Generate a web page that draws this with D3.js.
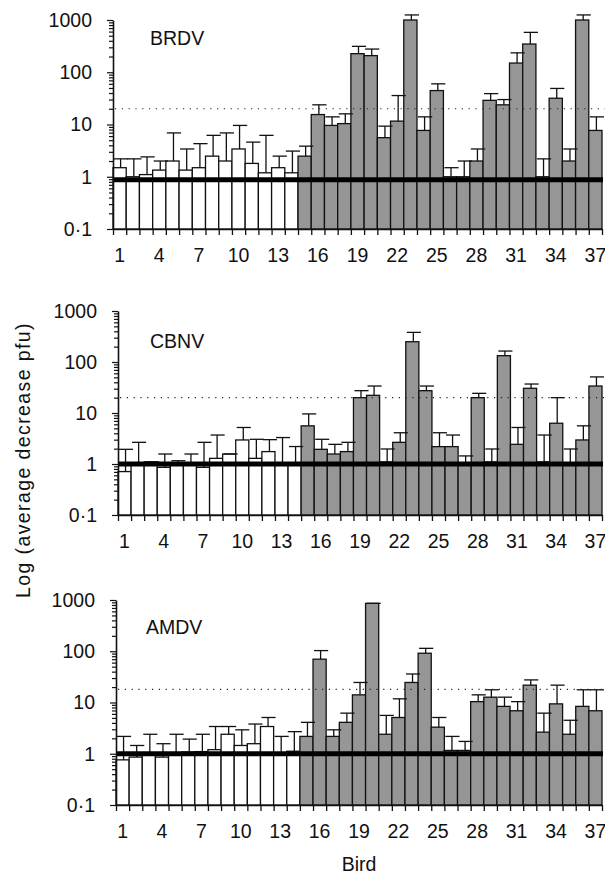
<!doctype html>
<html>
<meta charset="utf-8">
<style>
  body { margin: 0; background: #fff; }
  text { font-family: "Liberation Sans", Arial, sans-serif; fill: #111; }
</style>
<head>
  <script src="https://d3js.org/d3.v7.min.js"></script>
</head>
<body>
<script>

// birds 1..37, the first 14 are the white (control) group
var birds = d3.range(1, 38);
var controlCount = 14;
var xTickLabels = [1, 4, 7, 10, 13, 16, 19, 22, 25, 28, 31, 34, 37];
var yTickValues = [0.1, 1, 10, 100, 1000];
var yTickLabels = ["0·1", "1", "10", "100", "1000"];

var panelNames = ["BRDV", "CBNV", "AMDV"];
var cutoffs = [20, 20, 18];        // dotted line
var baselines = [0.88, 1, 1];      // thick line

var brdvMean = [1.49, 1.0, 1.1, 1.34, 2.0, 1.34, 1.49, 2.48, 2.0, 3.4, 1.8, 1.19, 1.49, 1.19,
  2.48, 15.5, 9.6, 10.4, 227, 208, 5.6, 11.6, 1000, 7.7, 44.6, 1.0, 1.0, 2.0, 29, 23.8, 150, 347, 1.0, 31.8, 2.0, 1000, 7.7];
var brdvUpper = [2.2, 2.2, 2.4, 2.0, 6.9, 3.4, 4.3, 6.2, 6.9, 9.6, 4.6, 6.2, 2.48, 3.1,
  3.85, 23.8, 14, 16, 313, 278, 9.3, 35.8, 1250, 14, 60, 1.49, 2.0, 3.4, 39, 30, 235, 580, 2.2, 49, 3.4, 1250, 14];

var cbnvMean = [0.71, 1.0, 1.1, 0.86, 1.05, 1.05, 0.86, 1.29, 1.57, 2.96, 1.29, 1.75, 1.0, 1.0,
  5.6, 1.94, 1.57, 1.75, 20, 22.2, 1.1, 2.66, 250, 27.4, 2.19, 2.19, 1.06, 20, 1.1, 133, 2.43, 30.5, 1.1, 6.3, 1.0, 2.96, 33.8];
var cbnvUpper = [1.94, 2.66, 1.1, 1.57, 1.16, 1.57, 2.66, 3.7, 1.57, 5.2, 3.05, 3.0, 3.3, 2.2,
  9.6, 3.05, 2.43, 2.66, 27.4, 33.8, 1.97, 4.1, 381, 33.8, 4.1, 3.7, 1.44, 24.3, 1.97, 164, 5.2, 37, 3.7, 20, 1.97, 5.6, 51];

var amdvMean = [0.76, 0.86, 1.0, 0.86, 1.0, 1.08, 1.1, 1.2, 2.4, 1.45, 1.57, 3.4, 1.0, 1.12,
  2.18, 70, 2.18, 4.1, 14.1, 860, 2.4, 5.1, 24.6, 91.5, 3.3, 1.16, 1.16, 10.4, 12.7, 8.4, 6.9, 21.8, 2.64, 9.4, 2.4, 8.4, 6.9];
var amdvUpper = [2.18, 1.45, 2.4, 1.57, 2.4, 1.93, 2.4, 3.4, 3.4, 2.93, 3.8, 5.1, 2.18, 2.7,
  4.1, 103, 2.93, 6.2, 24.6, 860, 5.6, 11.8, 36, 114, 5.1, 2.18, 1.74, 14.1, 17.7, 12.7, 10.4, 27.6, 6.2, 21.8, 4.5, 17.7, 17.7];

var means = [brdvMean, cbnvMean, amdvMean];
var uppers = [brdvUpper, cbnvUpper, amdvUpper];

var width = 605, height = 875;
var svg = d3.select("body").append("svg")
  .attr("width", width)
  .attr("height", height);

// panel frames: left edge of axis, y of 1000, y of 0.1, title baseline
var frames = [
  {left: 113, top: 20, bottom: 229, titleY: 45, titleX: 150},
  {left: 118, top: 311, bottom: 515, titleY: 348, titleX: 150},
  {left: 116, top: 600, bottom: 805, titleY: 634, titleX: 146}
];
var right = 602;

frames.forEach(function(f, p) {
  var g = svg.append("g");

  var x = d3.scaleBand().domain(birds).range([f.left, right]).padding(0);
  var xi = d3.scaleLinear().domain([0, birds.length]).range([f.left, right]);
  var y = d3.scaleLog().domain([0.1, 1000]).range([f.bottom, f.top]);
  var bw = x.bandwidth();

  var rows = birds.map(function(b, i) {
    return {bird: b, mean: means[p][i], upper: uppers[p][i], control: i < controlCount};
  });

  // bars
  g.selectAll("rect.bar").data(rows).enter().append("rect")
    .attr("class", "bar")
    .attr("x", function(d) { return x(d.bird); })
    .attr("width", bw)
    .attr("y", function(d) { return y(d.mean); })
    .attr("height", function(d) { return f.bottom - y(d.mean); })
    .attr("fill", function(d) { return d.control ? "#fff" : "#969696"; })
    .attr("stroke", "#111")
    .attr("stroke-width", 1.3);

  // error bars
  var eb = g.selectAll("g.err").data(rows).enter().append("g").attr("class", "err")
    .attr("stroke", "#111").attr("stroke-width", 1.3);
  eb.append("line")
    .attr("x1", function(d) { return x(d.bird) + bw / 2 + 1; })
    .attr("x2", function(d) { return x(d.bird) + bw / 2 + 1; })
    .attr("y1", function(d) { return y(d.mean); })
    .attr("y2", function(d) { return y(d.upper); });
  eb.append("line")
    .attr("x1", function(d) { return x(d.bird) + 1; })
    .attr("x2", function(d) { return x(d.bird) + bw + 2; })
    .attr("y1", function(d) { return y(d.upper); })
    .attr("y2", function(d) { return y(d.upper); });

  // dotted cut-off line
  g.append("line")
    .attr("x1", f.left + 2).attr("x2", width)
    .attr("y1", y(cutoffs[p])).attr("y2", y(cutoffs[p]))
    .attr("stroke", "#222").attr("stroke-width", 1.2)
    .attr("stroke-dasharray", "1.2,5.6");

  // thick baseline
  g.append("line")
    .attr("x1", f.left).attr("x2", right + 1)
    .attr("y1", y(baselines[p])).attr("y2", y(baselines[p]))
    .attr("stroke", "#000").attr("stroke-width", 5);

  // y axis
  var yAxis = d3.axisLeft(y)
    .tickValues(y.ticks())
    .tickSize(6)
    .tickSizeOuter(0)
    .tickPadding(15)
    .tickFormat(function(d) {
      var k = yTickValues.findIndex(function(v) { return Math.abs(v - d) < 1e-9; });
      return k >= 0 ? yTickLabels[k] : "";
    });
  var ya = g.append("g").attr("transform", "translate(" + f.left + ",0)").call(yAxis);
  ya.selectAll("line").attr("stroke", "#111").attr("stroke-width", 1.2)
    .attr("x2", function(d) {
      var major = yTickValues.some(function(v) { return Math.abs(v - d) < 1e-9; });
      return major ? -6 : -4;
    });
  ya.select(".domain").attr("stroke", "#111").attr("stroke-width", 1.6);
  ya.selectAll("text").style("font-size", "19.5px").attr("fill", "#111");

  // x axis: ticks at bar boundaries
  var xAxis = d3.axisBottom(xi)
    .tickValues(d3.range(0, birds.length + 1))
    .tickSize(6)
    .tickSizeOuter(0)
    .tickFormat("");
  var xa = g.append("g").attr("transform", "translate(0," + f.bottom + ")").call(xAxis);
  xa.selectAll("line").attr("stroke", "#111").attr("stroke-width", 1.3);
  xa.select(".domain").attr("stroke", "#111").attr("stroke-width", 1.6);

  g.selectAll("text.xl").data(xTickLabels).enter().append("text")
    .attr("class", "xl")
    .attr("x", function(d) { return x(d) + bw / 2; })
    .attr("y", f.bottom + 33)
    .attr("text-anchor", "middle")
    .style("font-size", "19.5px")
    .text(function(d) { return d; });

  g.append("text")
    .attr("x", f.titleX)
    .attr("y", f.titleY)
    .style("font-size", "19.5px")
    .text(panelNames[p]);
});

svg.append("text")
  .attr("x", (frames[2].left + right) / 2)
  .attr("y", 871)
  .attr("text-anchor", "middle")
  .style("font-size", "19.5px")
  .text("Bird");

svg.append("text")
  .attr("transform", "translate(30,460) rotate(-90)")
  .attr("text-anchor", "middle")
  .style("font-size", "19.5px")
  .style("letter-spacing", "1.4px")
  .text("Log (average decrease pfu)");

</script>
</body>
</html>
